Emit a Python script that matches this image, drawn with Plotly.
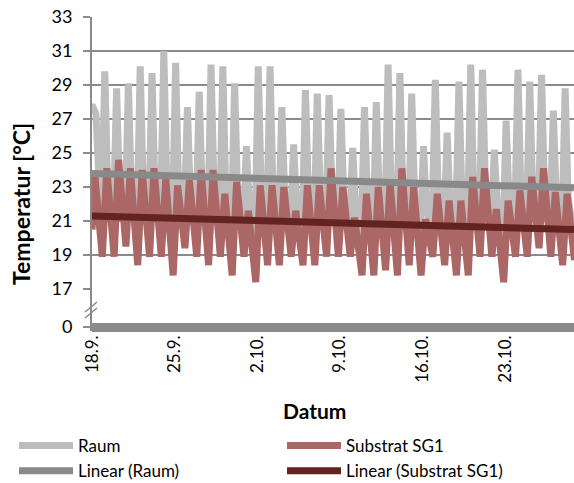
import plotly.graph_objects as go

# ---------------- data ----------------
# hours after the first data point (18.9., 12:00); one value per day
raum_peak = [27.7, 29.8, 28.8, 29.1, 30.1, 29.7, 31.0, 30.3, 27.7, 28.6,
             30.2, 30.1, 29.1, 25.4, 30.1, 30.1, 27.7, 25.5, 28.7, 28.5,
             28.4, 27.6, 25.3, 27.7, 28.0, 30.2, 29.7, 28.5, 25.4, 29.3,
             26.2, 29.2, 30.2, 29.9, 25.2, 26.9, 29.9, 29.2, 29.6, 27.5, 28.8]
raum_evening = [27.3, 22.8, 22.6, 22.7, 23.0, 22.8, 23.2, 22.9, 22.4, 22.6,
                22.9, 22.6, 22.5, 21.8, 22.8, 22.7, 22.3, 21.8, 22.5, 22.6,
                22.7, 22.3, 21.6, 22.2, 22.4, 22.9, 22.7, 22.3, 21.7, 22.5,
                21.9, 22.4, 22.8, 22.7, 21.7, 22.1, 22.6, 22.5, 22.7, 22.2, 22.4]
raum_trough = [20.4, 20.5, 20.8, 20.2, 20.5, 20.4, 19.9, 20.7, 20.4, 20.1,
               20.4, 19.9, 20.3, 19.6, 20.2, 20.1, 20.4, 20.1, 20.0, 20.4,
               20.3, 20.3, 19.8, 19.8, 20.0, 19.8, 20.1, 19.8, 20.4, 20.1,
               19.8, 19.8, 20.3, 20.3, 19.6, 20.3, 20.3, 20.6, 20.3, 20.0, 20.2]
sub_start = 20.5
sub_peak = [23.6, 24.1, 24.6, 24.1, 24.0, 24.1, 23.5, 23.1, 23.4, 24.0,
            24.0, 22.6, 23.3, 21.6, 23.1, 23.1, 23.0, 21.6, 23.1, 23.1,
            24.1, 23.0, 21.2, 22.6, 23.0, 23.3, 24.1, 23.0, 21.1, 22.6,
            22.2, 22.2, 23.6, 24.1, 21.7, 22.2, 22.8, 23.6, 24.1, 22.7, 22.6]
sub_trough = [18.9, 18.9, 19.5, 18.4, 18.9, 18.9, 17.8, 19.4, 18.9, 18.4,
              18.9, 17.8, 18.9, 17.4, 18.4, 18.4, 18.9, 18.4, 18.4, 18.9,
              18.9, 18.9, 17.8, 17.8, 18.1, 17.8, 18.4, 17.8, 18.9, 18.4,
              17.8, 17.8, 18.9, 18.9, 17.4, 18.9, 18.9, 19.4, 18.9, 18.4, 18.7]
trend_raum = [23.8, 22.95]
trend_sub = [21.3, 20.5]
trend_hours = [0, 980]
tick_hours = [0, 168, 336, 504, 672, 840]
tick_labels = ["18.9.", "25.9.", "2.10.", "9.10.", "16.10.", "23.10."]
y_ticks = [17, 19, 21, 23, 25, 27, 29, 31, 33]
y_low_ticks = [0]

# ---------------- build series ----------------
raum_x, raum_y = [0], [raum_peak[0]]
for d in range(len(raum_peak)):
    raum_x += [24 * d + 2, 24 * d + 8, 24 * d + 19]
    raum_y += [raum_peak[d], raum_evening[d], raum_trough[d]]

sub_x, sub_y = [0], [sub_start]
for d in range(len(sub_peak)):
    sub_x += [24 * d + 6, 24 * d + 21]
    sub_y += [sub_peak[d], sub_trough[d]]

GRID = "#8a8a8a"
FONT = "Lato"

fig = go.Figure()
fig.add_trace(go.Scatter(x=raum_x, y=raum_y, mode="lines", name="Raum",
                         line=dict(color="#bdbdbd", width=7), xaxis="x", yaxis="y"))
fig.add_trace(go.Scatter(x=sub_x, y=sub_y, mode="lines", name="Substrat SG1",
                         line=dict(color="#ab6666", width=7), xaxis="x", yaxis="y"))
fig.add_trace(go.Scatter(x=trend_hours, y=trend_raum, mode="lines", name="Linear (Raum)",
                         line=dict(color="#898989", width=7), xaxis="x", yaxis="y"))
fig.add_trace(go.Scatter(x=trend_hours, y=trend_sub, mode="lines", name="Linear (Substrat SG1)",
                         line=dict(color="#632321", width=7), xaxis="x", yaxis="y"))
# empty trace so the lower (broken) axis panel exists
fig.add_trace(go.Scatter(x=[], y=[], mode="lines", showlegend=False, hoverinfo="skip",
                         xaxis="x", yaxis="y2"))

B = 331  # pixel of plot bottom
T = 17
H = B - T

def py(p):
    return (B - p) / H

def px(p):
    return (p - 92) / 482

fig.update_layout(
    width=574, height=483,
    margin=dict(l=92, r=0, t=T, b=483 - B, autoexpand=False),
    paper_bgcolor="white", plot_bgcolor="white",
    font=dict(family=FONT, size=17, color="black"),
    showlegend=True,
    legend=dict(orientation="h", x=px(14), y=py(428), xanchor="left", yanchor="top",
                entrywidth=199, entrywidthmode="pixels", font=dict(size=17),
                tracegroupgap=0, itemwidth=54),
    xaxis=dict(range=[0, 980], anchor="y2", tickvals=tick_hours, ticktext=tick_labels,
               tickangle=-90, showgrid=False, zeroline=False, showline=False,
               ticks="", tickfont=dict(size=17), automargin=False),
    yaxis=dict(domain=[py(289), 1], range=[17, 33], tickvals=y_ticks, showgrid=True,
               gridcolor=GRID, gridwidth=1.5, zeroline=False, showline=True,
               linecolor=GRID, linewidth=2, ticks="outside", ticklen=7, tickcolor=GRID,
               tickwidth=1.5, tickfont=dict(size=18), anchor="x", automargin=False,
               ticklabelstandoff=7),
    yaxis2=dict(domain=[0, py(289)], range=[-0.0952, 0.9048], tickvals=y_low_ticks,
                showgrid=False, zeroline=True, zerolinecolor=GRID, zerolinewidth=9,
                showline=True, linecolor=GRID, linewidth=2, ticks="outside", ticklen=7,
                tickcolor=GRID, tickwidth=1.5, tickfont=dict(size=18), anchor="x",
                automargin=False, ticklabelstandoff=7),
    annotations=[
        dict(text="<b>Temperatur [°C]</b>", x=px(21), y=py(204), xref="paper", yref="paper",
             textangle=-90, showarrow=False, font=dict(size=23), xanchor="center", yanchor="middle"),
        dict(text="<b>Datum</b>", x=px(314), y=py(410), xref="paper", yref="paper",
             showarrow=False, font=dict(size=21), xanchor="center", yanchor="middle"),
    ],
    shapes=[
        dict(type="line", xref="paper", yref="paper", x0=px(85), y0=py(312), x1=px(97), y1=py(302),
             line=dict(color=GRID, width=1.5)),
        dict(type="line", xref="paper", yref="paper", x0=px(85), y0=py(318), x1=px(97), y1=py(308),
             line=dict(color=GRID, width=1.5)),
    ],
)

fig.write_html("out.html", config={"displayModeBar": False},
               post_script="document.body.style.margin='0';")
